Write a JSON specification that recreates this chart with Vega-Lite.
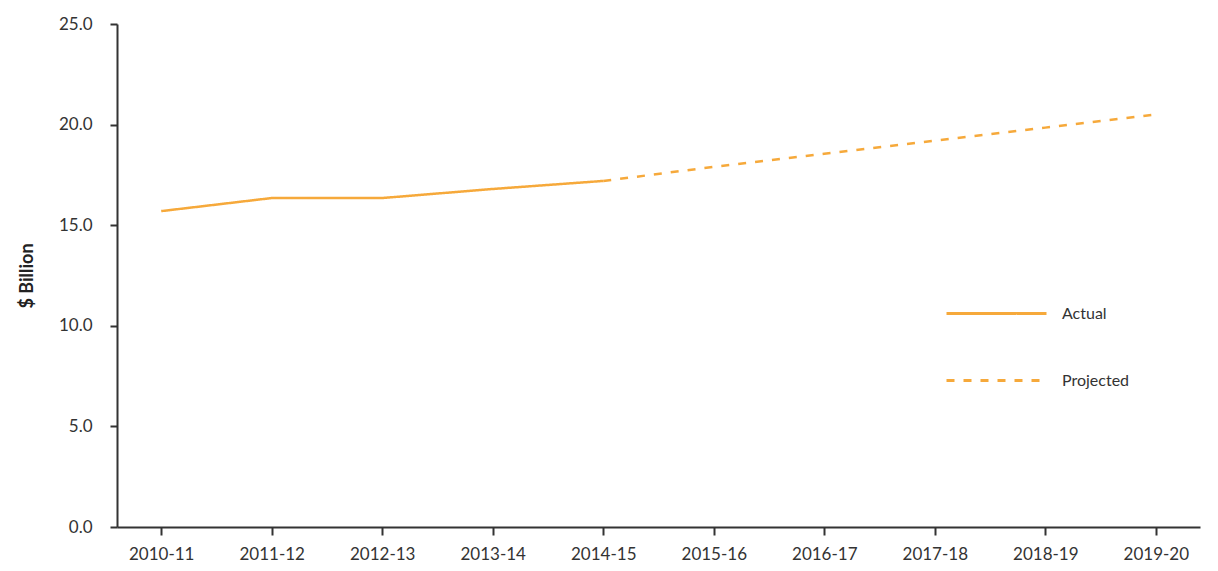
{
  "$schema": "https://vega.github.io/schema/vega-lite/v6.json",
  "width": 1083,
  "height": 503,
  "autosize": {"type": "none"},
  "padding": {"left": 117, "top": 24, "right": 18, "bottom": 44},
  "background": "white",
  "config": {
    "view": {"stroke": null},
    "font": "Lato",
    "axis": {"labelFont": "Lato", "labelColor": "#333333", "titleColor": "#222222", "domainColor": "#333333", "tickColor": "#333333", "domainWidth": 2, "tickWidth": 2}
  },
  "data": {
    "values": [
      {"year": "2010-11", "value": 15.7, "series": "Actual"},
      {"year": "2011-12", "value": 16.35, "series": "Actual"},
      {"year": "2012-13", "value": 16.35, "series": "Actual"},
      {"year": "2013-14", "value": 16.8, "series": "Actual"},
      {"year": "2014-15", "value": 17.2, "series": "Actual"},
      {"year": "2014-15", "value": 17.2, "series": "Projected"},
      {"year": "2015-16", "value": 17.9, "series": "Projected"},
      {"year": "2016-17", "value": 18.55, "series": "Projected"},
      {"year": "2017-18", "value": 19.2, "series": "Projected"},
      {"year": "2018-19", "value": 19.85, "series": "Projected"},
      {"year": "2019-20", "value": 20.5, "series": "Projected"}
    ]
  },
  "mark": {"type": "line", "color": "#F6A93B", "strokeWidth": 2.5},
  "encoding": {
    "x": {
      "field": "year", "type": "ordinal",
      "scale": {"type": "point", "padding": 0.4},
      "axis": {"title": null, "labelAngle": 0, "labelFontSize": 17, "tickSize": 8, "labelPadding": 11, "grid": false}
    },
    "y": {
      "field": "value", "type": "quantitative",
      "scale": {"domain": [0, 25]},
      "axis": {"title": "$ Billion", "titleFontSize": 18, "titleFontWeight": "bold", "titlePadding": 22, "values": [0, 5, 10, 15, 20, 25], "format": ".1f", "labelFontSize": 17, "tickSize": 7, "labelPadding": 18, "grid": false}
    },
    "strokeDash": {
      "field": "series", "type": "nominal",
      "scale": {"domain": ["Actual", "Projected"], "range": [[1, 0], [8, 9]]},
      "legend": {"title": null, "orient": "none", "legendX": 828, "legendY": 238, "symbolType": "stroke", "symbolSize": 10000, "symbolStrokeWidth": 3, "symbolStrokeColor": "#F6A93B", "labelFontSize": 16, "labelColor": "#333333", "rowPadding": 7, "labelOffset": 14}
    }
  }
}
